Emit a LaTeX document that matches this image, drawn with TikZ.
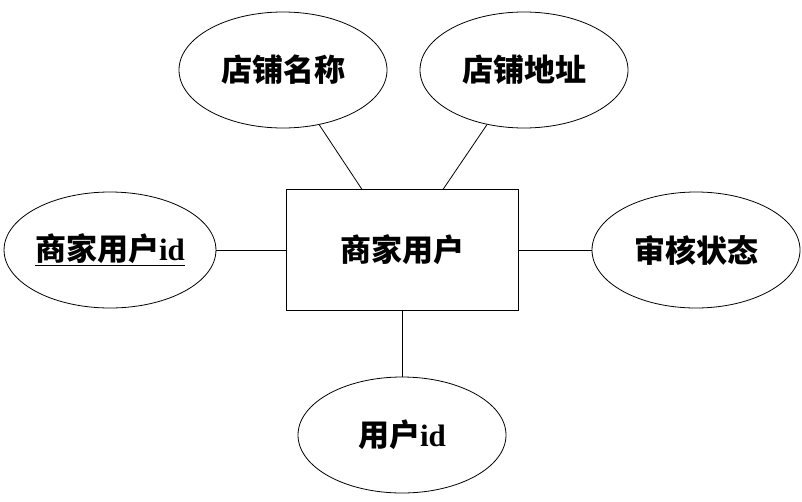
\documentclass[tikz,border=0pt]{standalone}
\usepackage{fontspec}
\setmainfont{Liberation Serif}
\newfontfamily\cjk{Noto Sans CJK SC}
\tikzset{
    attr/.style = {ellipse,
                  draw=black,
                  thick,
                  inner sep=0pt,
                  minimum width=208pt,
                  minimum height=116pt,
                  font=\fontsize{31}{33}\selectfont\bfseries},
    entity/.style = {rectangle,
                  draw=black,
                  thick,
                  minimum width=232pt,
                  minimum height=121pt,
                  font=\fontsize{31}{33}\selectfont\bfseries},
    link/.style = {thick}}
\usetikzlibrary{shapes.geometric}
\begin{document}
\begin{tikzpicture}[x=1pt,y=-1pt]
    \useasboundingbox (0,0) rectangle (802,501);
    \node[entity] (shop) at (402,250) {\cjk 商家用户};
    \node[attr] (name) at (283,70) {\cjk 店铺名称};
    \node[attr] (addr) at (524,70) {\cjk 店铺地址};
    \node[attr] (sid) at (110,250) {\underline{{\cjk 商家用户}id}};
    \node[attr] (state) at (696,250) {\cjk 审核状态};
    \node[attr] (uid) at (402,435) {{\cjk 用户}id};

    \draw[link] (shop) -- (name);
    \draw[link] (shop) -- (addr);
    \draw[link] (shop) -- (sid);
    \draw[link] (shop) -- (state);
    \draw[link] (shop) -- (uid);
\end{tikzpicture}
\end{document}
